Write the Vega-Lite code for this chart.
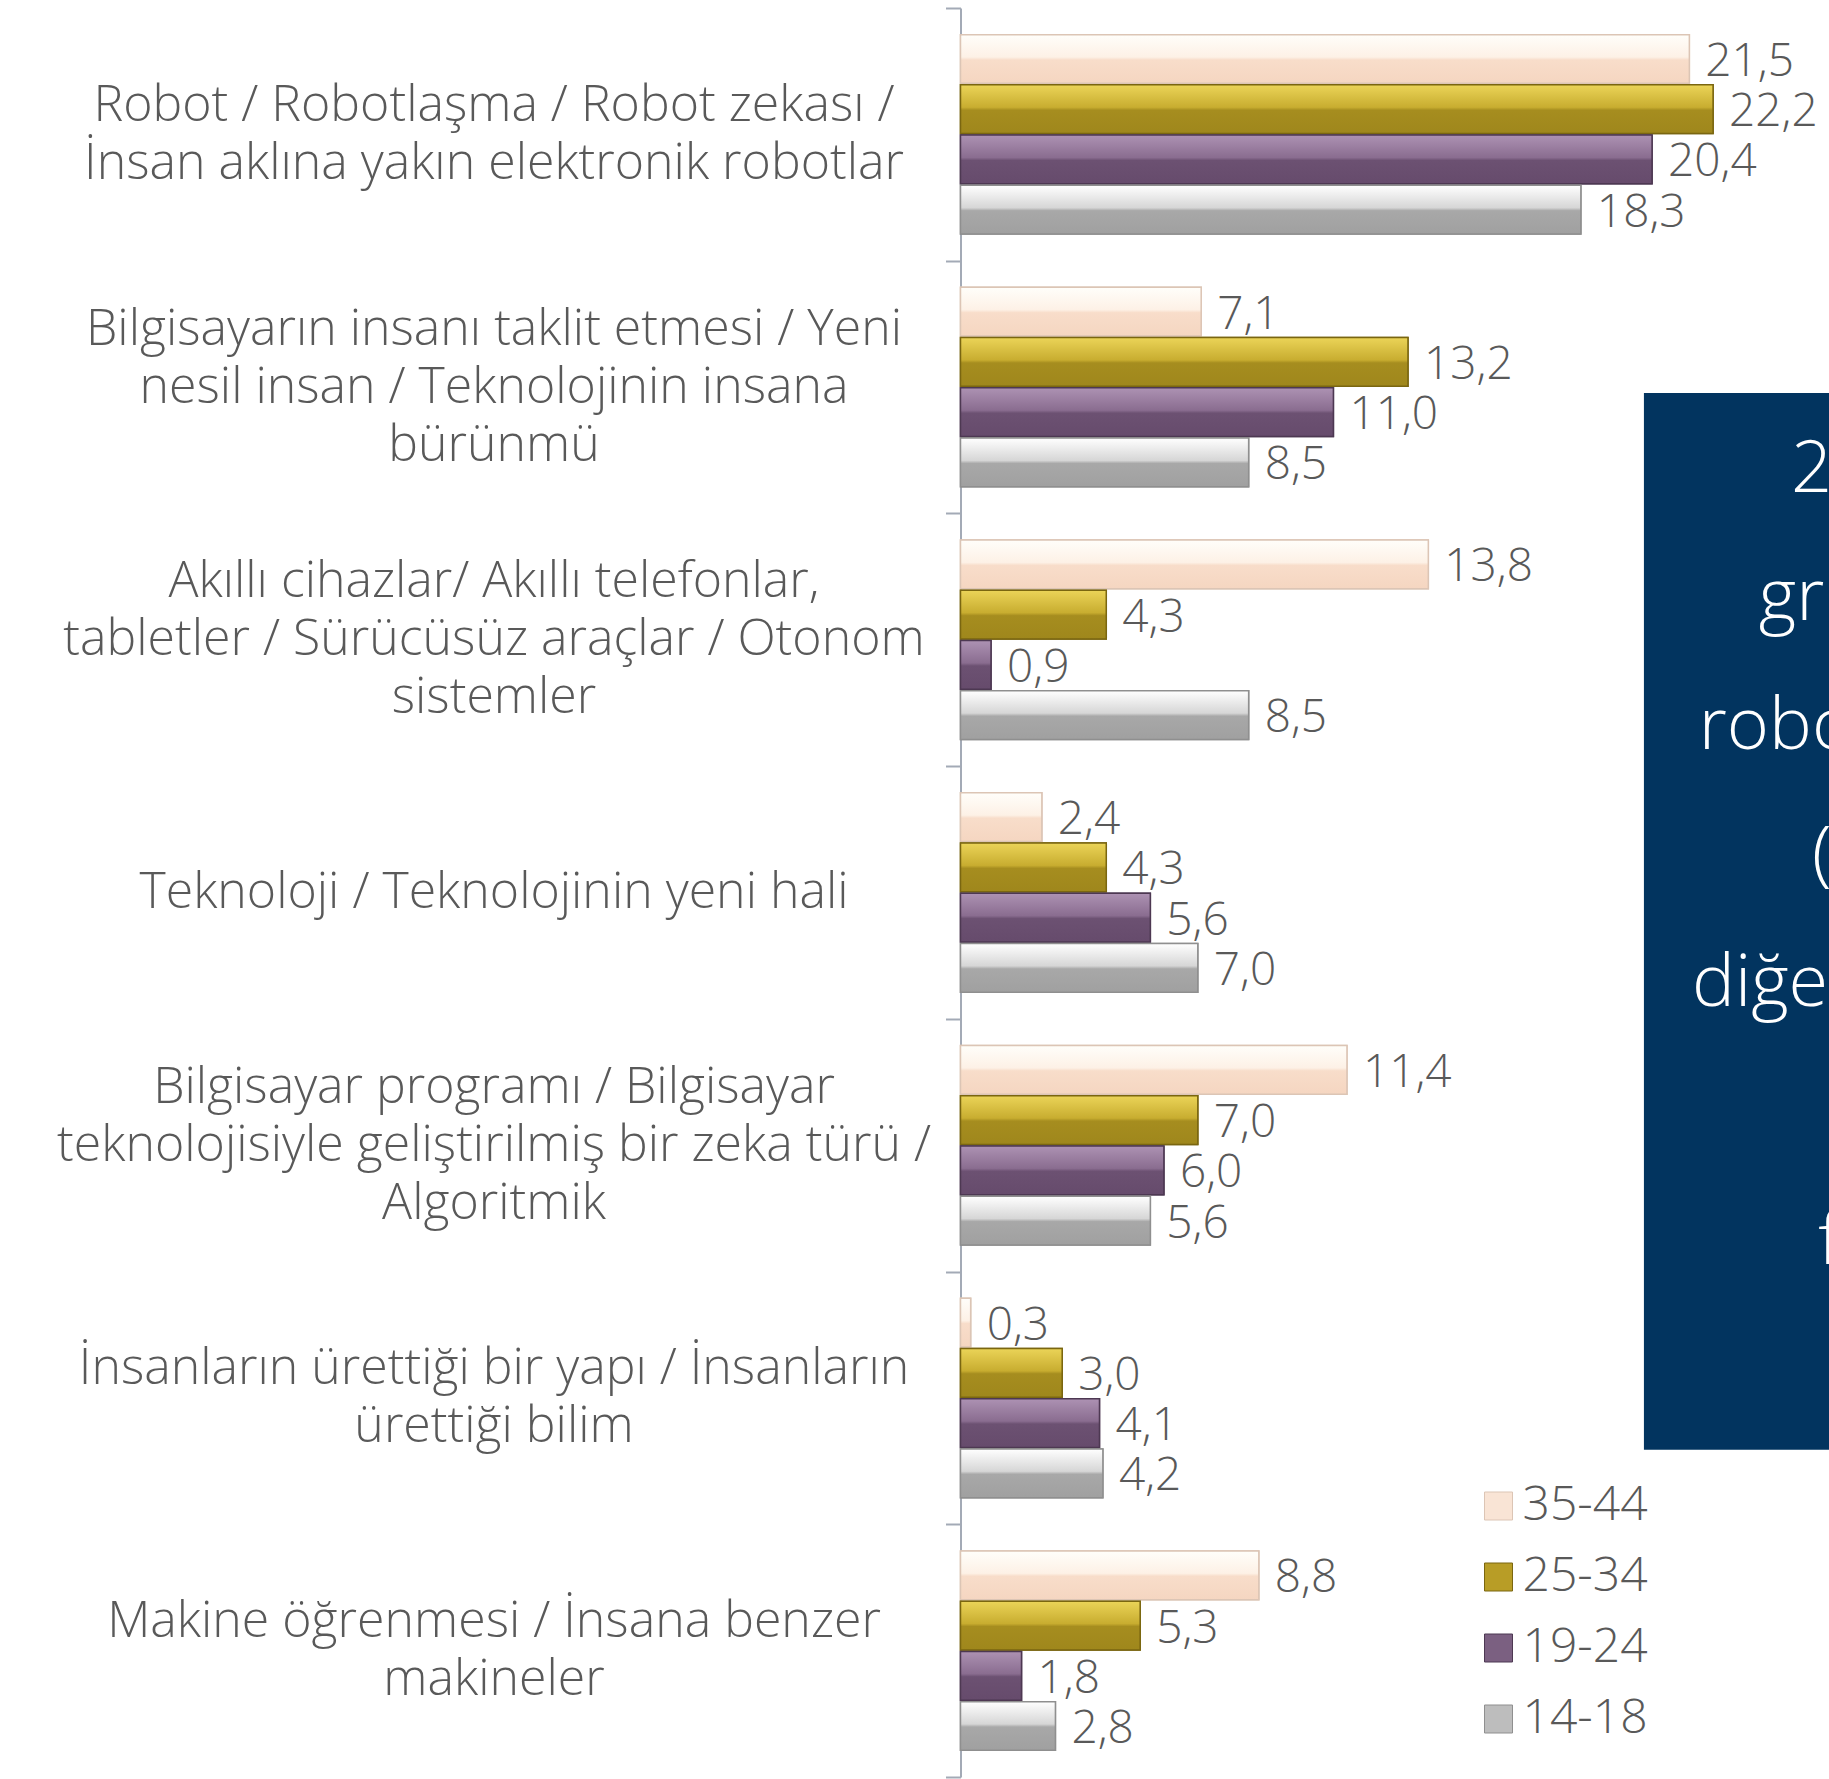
{
  "$schema": "https://vega.github.io/schema/vega-lite/v6.json",
  "width": 847.5,
  "height": 1769,
  "autosize": {"type": "none"},
  "padding": {"left": 960.5, "top": 8, "right": 21, "bottom": 2},
  "background": "white",
  "config": {
    "view": {"stroke": null},
    "locale": {"number": {"decimal": ",", "thousands": ".", "grouping": [3], "currency": ["", " TL"]}}
  },
  "layer": [
    {
      "data": {
        "values": [
          {"category": "Robot / Robotlaşma / Robot zekası /|İnsan aklına yakın elektronik robotlar", "group": "35-44", "value": 21.5},
          {"category": "Robot / Robotlaşma / Robot zekası /|İnsan aklına yakın elektronik robotlar", "group": "25-34", "value": 22.2},
          {"category": "Robot / Robotlaşma / Robot zekası /|İnsan aklına yakın elektronik robotlar", "group": "19-24", "value": 20.4},
          {"category": "Robot / Robotlaşma / Robot zekası /|İnsan aklına yakın elektronik robotlar", "group": "14-18", "value": 18.3},
          {"category": "Bilgisayarın insanı taklit etmesi / Yeni|nesil insan / Teknolojinin insana|bürünmü", "group": "35-44", "value": 7.1},
          {"category": "Bilgisayarın insanı taklit etmesi / Yeni|nesil insan / Teknolojinin insana|bürünmü", "group": "25-34", "value": 13.2},
          {"category": "Bilgisayarın insanı taklit etmesi / Yeni|nesil insan / Teknolojinin insana|bürünmü", "group": "19-24", "value": 11.0},
          {"category": "Bilgisayarın insanı taklit etmesi / Yeni|nesil insan / Teknolojinin insana|bürünmü", "group": "14-18", "value": 8.5},
          {"category": "Akıllı cihazlar/ Akıllı telefonlar,|tabletler / Sürücüsüz araçlar / Otonom|sistemler", "group": "35-44", "value": 13.8},
          {"category": "Akıllı cihazlar/ Akıllı telefonlar,|tabletler / Sürücüsüz araçlar / Otonom|sistemler", "group": "25-34", "value": 4.3},
          {"category": "Akıllı cihazlar/ Akıllı telefonlar,|tabletler / Sürücüsüz araçlar / Otonom|sistemler", "group": "19-24", "value": 0.9},
          {"category": "Akıllı cihazlar/ Akıllı telefonlar,|tabletler / Sürücüsüz araçlar / Otonom|sistemler", "group": "14-18", "value": 8.5},
          {"category": "Teknoloji / Teknolojinin yeni hali", "group": "35-44", "value": 2.4},
          {"category": "Teknoloji / Teknolojinin yeni hali", "group": "25-34", "value": 4.3},
          {"category": "Teknoloji / Teknolojinin yeni hali", "group": "19-24", "value": 5.6},
          {"category": "Teknoloji / Teknolojinin yeni hali", "group": "14-18", "value": 7.0},
          {"category": "Bilgisayar programı /  Bilgisayar|teknolojisiyle geliştirilmiş bir zeka türü /|Algoritmik", "group": "35-44", "value": 11.4},
          {"category": "Bilgisayar programı /  Bilgisayar|teknolojisiyle geliştirilmiş bir zeka türü /|Algoritmik", "group": "25-34", "value": 7.0},
          {"category": "Bilgisayar programı /  Bilgisayar|teknolojisiyle geliştirilmiş bir zeka türü /|Algoritmik", "group": "19-24", "value": 6.0},
          {"category": "Bilgisayar programı /  Bilgisayar|teknolojisiyle geliştirilmiş bir zeka türü /|Algoritmik", "group": "14-18", "value": 5.6},
          {"category": "İnsanların ürettiği bir yapı / İnsanların|ürettiği bilim", "group": "35-44", "value": 0.3},
          {"category": "İnsanların ürettiği bir yapı / İnsanların|ürettiği bilim", "group": "25-34", "value": 3.0},
          {"category": "İnsanların ürettiği bir yapı / İnsanların|ürettiği bilim", "group": "19-24", "value": 4.1},
          {"category": "İnsanların ürettiği bir yapı / İnsanların|ürettiği bilim", "group": "14-18", "value": 4.2},
          {"category": "Makine öğrenmesi / İnsana benzer|makineler", "group": "35-44", "value": 8.8},
          {"category": "Makine öğrenmesi / İnsana benzer|makineler", "group": "25-34", "value": 5.3},
          {"category": "Makine öğrenmesi / İnsana benzer|makineler", "group": "19-24", "value": 1.8},
          {"category": "Makine öğrenmesi / İnsana benzer|makineler", "group": "14-18", "value": 2.8}
        ]
      },
      "encoding": {
        "y": {
          "field": "category",
          "type": "nominal",
          "sort": null,
          "title": null,
          "scale": {"paddingInner": 0, "paddingOuter": 0},
          "axis": {
            "labelExpr": "split(datum.label, '|')",
            "labelAlign": "center",
            "labelBaseline": "middle",
            "labelOffset": {"expr": "-(length(split(datum.value, '|')) - 1) * 29"},
            "labelFont": "Open Sans",
            "labelFontSize": 50,
            "labelFontWeight": 300,
            "labelLineHeight": 58,
            "labelColor": "#595959",
            "labelPadding": 452,
            "labelLimit": 0,
            "tickBand": "extent",
            "tickSize": 15,
            "tickWidth": 2,
            "tickColor": "#a3aab6",
            "domainColor": "#a3aab6",
            "domainWidth": 2,
            "grid": false
          }
        },
        "yOffset": {
          "field": "group",
          "type": "nominal",
          "sort": ["35-44", "25-34", "19-24", "14-18"],
          "scale": {"domain": ["35-44", "25-34", "19-24", "14-18"], "paddingInner": 0.03, "paddingOuter": 0.53}
        },
        "x": {
          "field": "value",
          "type": "quantitative",
          "scale": {"domain": [0, 25], "nice": false},
          "axis": null
        }
      },
      "layer": [
        {
          "mark": {"type": "bar", "strokeWidth": 1.5},
          "encoding": {
            "fill": {
              "field": "group",
              "type": "nominal",
              "title": null,
              "sort": ["35-44", "25-34", "19-24", "14-18"],
              "scale": {
                "domain": ["35-44", "25-34", "19-24", "14-18"],
                "range": ["#f9e4d5", "#b89d26", "#7b6081", "#bdbdbd"]
              },
              "legend": {
                "orient": "none",
                "legendX": 514,
                "legendY": 1474,
                "symbolType": "square",
                "symbolSize": 784,
                "symbolStrokeColor": "#8a8a8a",
                "symbolStrokeWidth": 1,
                "symbolOpacity": 1,
                "labelFontSize": 48,
                "labelFont": "Open Sans",
                "labelFontWeight": 300,
                "labelColor": "#595959",
                "labelOffset": 0,
                "rowPadding": 23,
                "labelLimit": 0,
                "padding": 0
              }
            },
            "stroke": {
              "field": "group",
              "type": "nominal",
              "legend": null,
              "scale": {
                "domain": ["35-44", "25-34", "19-24", "14-18"],
                "range": ["#dcc5b5", "#7a6610", "#4d3852", "#8f8f8f"]
              }
            }
          }
        },
        {
          "transform": [{"filter": "datum.group === '35-44'"}],
          "mark": {"type": "bar", "strokeWidth": 1.5, "stroke": "#dcc5b5",
            "fill": {"gradient": "linear", "x1": 0, "y1": 0, "x2": 0, "y2": 1, "stops": [{"offset": 0, "color": "#fffefa"}, {"offset": 0.46, "color": "#fdf1e6"}, {"offset": 0.52, "color": "#f8ddca"}, {"offset": 1, "color": "#f5d6c1"}]}}
        },
        {
          "transform": [{"filter": "datum.group === '25-34'"}],
          "mark": {"type": "bar", "strokeWidth": 1.5, "stroke": "#7a6610",
            "fill": {"gradient": "linear", "x1": 0, "y1": 0, "x2": 0, "y2": 1, "stops": [{"offset": 0, "color": "#ebd458"}, {"offset": 0.46, "color": "#c8ad30"}, {"offset": 0.52, "color": "#a68d1f"}, {"offset": 1, "color": "#9f871c"}]}}
        },
        {
          "transform": [{"filter": "datum.group === '19-24'"}],
          "mark": {"type": "bar", "strokeWidth": 1.5, "stroke": "#4d3852",
            "fill": {"gradient": "linear", "x1": 0, "y1": 0, "x2": 0, "y2": 1, "stops": [{"offset": 0, "color": "#ad92b3"}, {"offset": 0.46, "color": "#8a6d90"}, {"offset": 0.52, "color": "#6c5172"}, {"offset": 1, "color": "#664b6c"}]}}
        },
        {
          "transform": [{"filter": "datum.group === '14-18'"}],
          "mark": {"type": "bar", "strokeWidth": 1.5, "stroke": "#8f8f8f",
            "fill": {"gradient": "linear", "x1": 0, "y1": 0, "x2": 0, "y2": 1, "stops": [{"offset": 0, "color": "#ffffff"}, {"offset": 0.46, "color": "#d6d6d6"}, {"offset": 0.52, "color": "#a8a8a8"}, {"offset": 1, "color": "#a0a0a0"}]}}
        },
        {
          "mark": {"type": "text", "align": "left", "baseline": "middle", "dx": 16, "dy": 3, "fontSize": 46, "font": "Open Sans", "fontWeight": 300, "color": "#595959"},
          "encoding": {
            "text": {"field": "value", "type": "quantitative", "format": ".1f"}
          }
        }
      ]
    },
    {
      "data": {"values": [{"x_start": 20.16, "x_end": 27, "y_start": 21.76, "y_end": 81.5}]},
      "mark": {"type": "rect", "color": "#02345f"},
      "encoding": {
        "x": {"field": "x_start", "type": "quantitative", "scale": {"domain": [0, 25], "nice": false}, "axis": null},
        "x2": {"field": "x_end"},
        "y": {"field": "y_start", "type": "quantitative", "scale": {"domain": [0, 100], "reverse": true, "nice": false}, "axis": null},
        "y2": {"field": "y_end"}
      }
    },
    {
      "data": {
        "values": [
          {"fragment": "2", "x_pos": 24.5, "y_pos": 27.36},
          {"fragment": "gr", "x_pos": 23.55, "y_pos": 34.6},
          {"fragment": "robo", "x_pos": 21.78, "y_pos": 41.9},
          {"fragment": "(", "x_pos": 25.12, "y_pos": 49.2},
          {"fragment": "diğe", "x_pos": 21.58, "y_pos": 56.4},
          {"fragment": "f", "x_pos": 25.3, "y_pos": 71.0}
        ]
      },
      "mark": {"type": "text", "align": "left", "baseline": "alphabetic", "fontSize": 72, "font": "Open Sans", "fontWeight": 300, "color": "white"},
      "encoding": {
        "x": {"field": "x_pos", "type": "quantitative", "scale": {"domain": [0, 25], "nice": false}, "axis": null},
        "y": {"field": "y_pos", "type": "quantitative", "scale": {"domain": [0, 100], "reverse": true, "nice": false}, "axis": null},
        "text": {"field": "fragment"}
      }
    }
  ],
  "resolve": {"scale": {"y": "independent"}}
}
